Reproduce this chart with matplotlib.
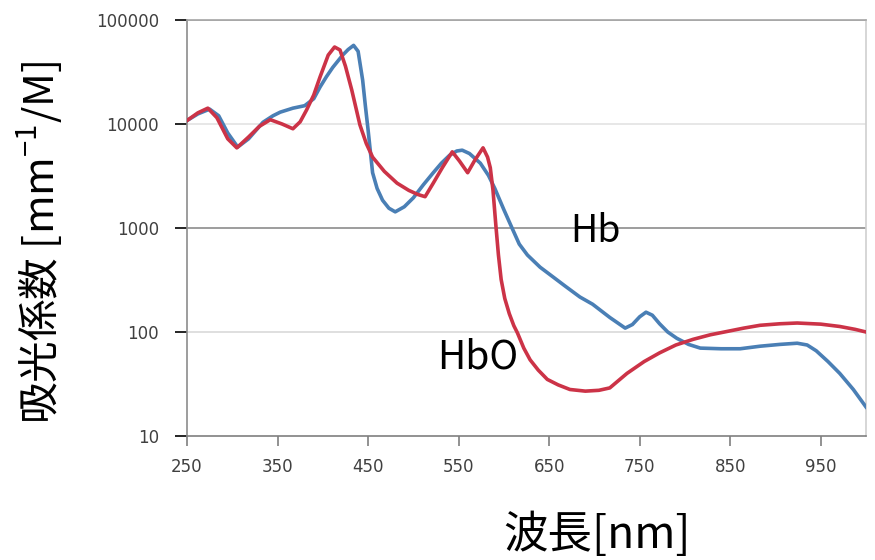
import matplotlib
matplotlib.use("Agg")
import matplotlib.pyplot as plt
from matplotlib.ticker import FixedLocator, FixedFormatter, NullLocator

# Hb (deoxy) absorption
wl_hb = [250, 262, 275, 285, 295, 306, 318, 334, 345, 353, 367, 380, 390, 397,
         404, 411, 422, 428, 434, 439, 444, 447, 450, 455, 460, 466, 473, 480,
         490, 500, 511, 522, 531, 540, 548, 554, 562, 574, 583, 590, 600, 609,
         617, 626, 640, 654, 668, 684, 698, 717, 734, 742, 750, 757, 764, 772,
         781, 791, 804, 817, 840, 861, 883, 905, 924, 935, 945, 958, 971, 986, 1000]
hb = [10800, 12500, 13900, 12000, 8200, 6000, 7200, 10400, 12000, 13000, 14200,
      15000, 17500, 22700, 28500, 35000, 46000, 52000, 57000, 50000, 26500, 15000,
      8800, 3400, 2400, 1850, 1550, 1430, 1600, 1950, 2600, 3400, 4200, 5000, 5500,
      5600, 5200, 4200, 3200, 2400, 1500, 1000, 700, 550, 420, 340, 275, 217, 185,
      138, 109, 118, 140, 155, 145, 120, 100, 87, 76, 70, 69, 69, 73, 76, 78, 75,
      66, 52, 40, 28, 19]

# HbO2 absorption
wl_hbo = [250, 262, 273, 283, 295, 305, 318, 330, 342, 355, 367, 375, 382, 390,
          397, 406, 413, 419, 425, 432, 441, 448, 455, 468, 482, 495, 505, 513,
          522, 532, 543, 551, 560, 568, 577, 582, 585, 588, 591, 594, 597, 601,
          606, 611, 615, 622, 629, 638, 648, 660, 673, 690, 705, 717, 736, 755,
          772, 790, 809, 828, 846, 865, 883, 905, 924, 950, 971, 988, 1000]
hbo = [10800, 12800, 14200, 11500, 7200, 5900, 7500, 9500, 11000, 10000, 9000,
       10500, 13600, 19000, 28400, 46000, 55000, 51500, 36000, 21200, 9800, 6500,
       4800, 3500, 2700, 2300, 2100, 2000, 2700, 3800, 5400, 4400, 3400, 4500, 5900,
       4800, 3800, 2300, 1100, 550, 320, 210, 150, 115, 98, 70, 54, 43, 35, 31, 28,
       27, 27.5, 29, 40, 52, 63, 75, 85, 94, 101, 109, 116, 120, 122, 119, 113, 106, 100]

x_ticks = [250, 350, 450, 550, 650, 750, 850, 950]
y_ticks = [10, 100, 1000, 10000, 100000]
y_labels = ["10", "100", "1000", "10000", "100000"]
grid_colors = ["#7f7f7f", "#d9d9d9", "#8c8c8c", "#e3e3e3", "#a6a6a6"]

cjk = ["Noto Sans CJK JP", "DejaVu Sans"]

fig = plt.figure(figsize=(8.75, 5.6), dpi=100)
ax = fig.add_axes([187 / 875, 1 - 436 / 560, 679 / 875, 416 / 560])

for v, c in zip(y_ticks[1:], grid_colors[1:]):
    ax.axhline(v, color=c, lw=1.2, zorder=1)

ax.plot(wl_hb, hb, color="#4a7fb5", lw=2.6, solid_joinstyle="round", zorder=3)
ax.plot(wl_hbo, hbo, color="#cc3347", lw=2.6, solid_joinstyle="round", zorder=4)

ax.set_yscale("log")
ax.set_xlim(250, 1000)
ax.set_ylim(10, 100000)
ax.yaxis.set_major_locator(FixedLocator(y_ticks))
ax.yaxis.set_major_formatter(FixedFormatter(y_labels))
ax.yaxis.set_minor_locator(NullLocator())
ax.set_xticks(x_ticks)

ax.tick_params(axis="both", direction="out", labelsize=12, labelcolor="#404040")
ax.tick_params(axis="x", length=7, width=1.2, color="#7f7f7f", pad=9)
ax.tick_params(axis="y", length=9, width=1.2, pad=11)
for t, c in zip(ax.yaxis.get_major_ticks(), grid_colors):
    t.tick1line.set_color(c)

ax.spines["left"].set_color("#8c8c8c")
ax.spines["bottom"].set_color("#7f7f7f")
ax.spines["top"].set_color("#a6a6a6")
ax.spines["right"].set_color("#d0d0d0")
for s in ax.spines.values():
    s.set_linewidth(1.2)

ax.text(673, 733, "Hb", fontsize=27, family=cjk, ha="left", va="baseline")
ax.text(526, 45, "HbO", fontsize=28, family=cjk, ha="left", va="baseline")

fig.text(40 / 875, 1 - 242 / 560, "吸光係数 [mm$^{\\mathregular{-1}}$/M]", rotation=90,
         fontsize=30, family=cjk, ha="center", va="center")
fig.text(597 / 875, 1 - 535 / 560, "波長[nm]", fontsize=32, family=cjk,
         ha="center", va="center")

fig.savefig("out.png", dpi=100)
